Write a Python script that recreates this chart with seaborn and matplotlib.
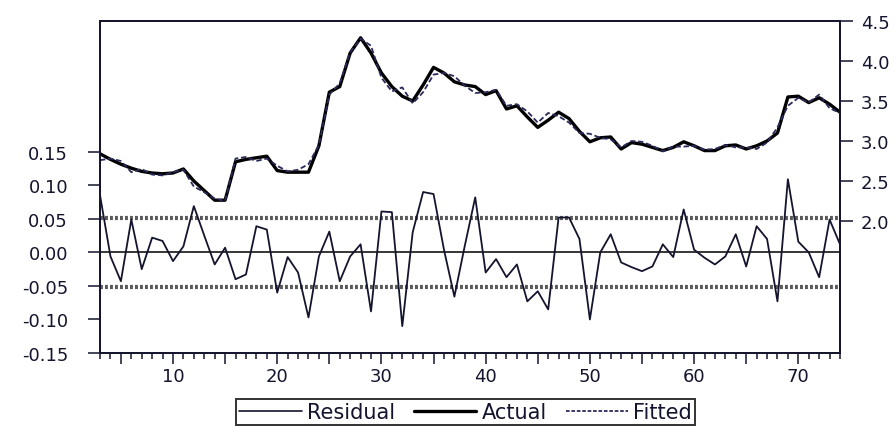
import numpy as np
import pandas as pd
import seaborn as sns
import matplotlib.pyplot as plt
from matplotlib.lines import Line2D
from matplotlib.ticker import MultipleLocator, FixedLocator, FuncFormatter

sns.set_style('ticks')
plt.rcParams['font.family'] = ['DejaVu Sans']
plt.rcParams['axes.unicode_minus'] = False

# observations 3..74
obs = list(range(3, 75))

residual = [0.085, -0.006, -0.043, 0.049, -0.025, 0.022, 0.017, -0.013, 0.009, 0.069,
            0.025, -0.018, 0.007, -0.040, -0.033, 0.039, 0.034, -0.060, -0.007, -0.030,
            -0.097, -0.006, 0.031, -0.043, -0.006, 0.012, -0.088, 0.061, 0.060, -0.110,
            0.030, 0.090, 0.087, 0.004, -0.066, 0.010, 0.082, -0.030, -0.010, -0.037,
            -0.018, -0.073, -0.058, -0.085, 0.052, 0.052, 0.020, -0.100, 0.000, 0.027,
            -0.015, -0.022, -0.028, -0.021, 0.012, -0.007, 0.064, 0.004, -0.008, -0.018,
            -0.006, 0.027, -0.021, 0.039, 0.020, -0.073, 0.109, 0.016, 0.000, -0.037,
            0.049, 0.012]

actual = [2.84, 2.77, 2.71, 2.66, 2.62, 2.60, 2.59, 2.60, 2.65, 2.50,
          2.38, 2.26, 2.26, 2.74, 2.77, 2.79, 2.81, 2.63, 2.61, 2.61,
          2.61, 2.94, 3.61, 3.68, 4.10, 4.29, 4.10, 3.85, 3.68, 3.56,
          3.50, 3.70, 3.92, 3.85, 3.74, 3.70, 3.68, 3.58, 3.63, 3.40,
          3.44, 3.30, 3.17, 3.26, 3.36, 3.28, 3.12, 2.99, 3.04, 3.05,
          2.90, 2.98, 2.96, 2.92, 2.88, 2.92, 2.99, 2.94, 2.88, 2.88,
          2.94, 2.95, 2.90, 2.94, 3.00, 3.10, 3.55, 3.56, 3.48, 3.54,
          3.46, 3.36]

fitted = [2.76, 2.78, 2.75, 2.61, 2.65, 2.58, 2.57, 2.61, 2.64, 2.43,
          2.36, 2.28, 2.25, 2.78, 2.80, 2.75, 2.78, 2.69, 2.62, 2.64,
          2.71, 2.95, 3.58, 3.72, 4.11, 4.28, 4.19, 3.79, 3.62, 3.67,
          3.47, 3.61, 3.83, 3.85, 3.81, 3.69, 3.60, 3.61, 3.64, 3.44,
          3.46, 3.37, 3.23, 3.35, 3.31, 3.23, 3.10, 3.09, 3.04, 3.02,
          2.92, 3.00, 2.99, 2.94, 2.87, 2.93, 2.93, 2.94, 2.89, 2.90,
          2.95, 2.92, 2.92, 2.90, 2.98, 3.17, 3.44, 3.54, 3.48, 3.58,
          3.41, 3.35]

resid_std = 0.051

df = pd.DataFrame({'obs': obs, 'residual': residual, 'actual': actual, 'fitted': fitted})

ink = '#14142e'

fig = plt.figure(figsize=(8.94, 4.27), dpi=100)
ax = fig.add_axes([0.1119, 0.171, 0.8277, 0.7775])
ax2 = ax.twinx()

# residual panel (left scale)
ax.axhline(0, color='black', lw=1.1, zorder=1)
for v in (resid_std, -resid_std):
    ax.axhline(v, color='#5a5a5a', lw=3, ls=(0, (0.7, 0.5)), zorder=1)
sns.lineplot(data=df, x='obs', y='residual', ax=ax, color=ink, lw=1.3, zorder=2)

# actual / fitted (right scale)
sns.lineplot(data=df, x='obs', y='actual', ax=ax2, color='black', lw=2.4)
sns.lineplot(data=df, x='obs', y='fitted', ax=ax2, color='#2a2a5a', lw=1.3, ls=(0, (3, 1.5)))

ax.set_xlim(3, 74)
ax.set_ylim(-0.15, 0.345)
ax2.set_ylim(0.35, 4.5)
for a in (ax, ax2):
    a.set_xlabel('')
    a.set_ylabel('')

ax.set_yticks([-0.15, -0.10, -0.05, 0.00, 0.05, 0.10, 0.15])
ax.yaxis.set_major_formatter(FuncFormatter(lambda v, p: f'{v:.2f}'))
ax2.set_yticks([2.0, 2.5, 3.0, 3.5, 4.0, 4.5])
ax2.yaxis.set_major_formatter(FuncFormatter(lambda v, p: f'{v:.1f}'))

ax.xaxis.set_major_locator(FixedLocator(list(range(5, 75, 5))))
ax.xaxis.set_major_formatter(FuncFormatter(lambda v, p: f'{int(v)}' if int(v) % 10 == 0 else ''))
ax.xaxis.set_minor_locator(MultipleLocator(1))

ax.tick_params(axis='x', which='major', length=8, width=1.1, pad=2, labelsize=13, colors=ink)
ax.tick_params(axis='x', which='minor', length=4, width=1.1, colors=ink)
ax.tick_params(axis='y', length=9, width=1.1, pad=14, labelsize=13, colors=ink)
ax2.tick_params(axis='y', length=9, width=1.1, pad=6, labelsize=13, colors=ink)

for a in (ax, ax2):
    for s in a.spines.values():
        s.set_visible(True)
        s.set_color(ink)
        s.set_linewidth(1.3)

handles = [Line2D([], [], color=ink, lw=1.2),
           Line2D([], [], color='black', lw=2.4),
           Line2D([], [], color='#2a2a5a', lw=1.3, ls=(0, (2, 1)))]
leg = fig.legend(handles, ['Residual', 'Actual', 'Fitted'], ncol=3,
                 loc='upper center', bbox_to_anchor=(0.521, 0.063),
                 fontsize=15, frameon=True, fancybox=False,
                 handlelength=3.0, handletextpad=0.25, columnspacing=0.9,
                 borderpad=0.15, borderaxespad=0)
leg.get_frame().set_edgecolor('black')
leg.get_frame().set_linewidth(1.4)
for t in leg.get_texts():
    t.set_color(ink)

fig.savefig('out.png', dpi=100)
